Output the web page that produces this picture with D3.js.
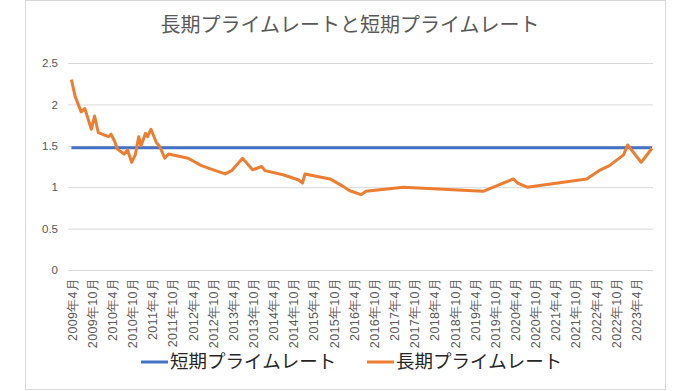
<!DOCTYPE html>
<html>
  <head>
    <meta charset="utf-8">
    <title>長期プライムレートと短期プライムレート</title>
    <script src="https://cdn.jsdelivr.net/npm/d3@7"></script>
    <style>
      body { margin: 0; background: #fff; }
      svg { display: block; font-family: "Liberation Serif", "Noto Sans CJK JP", serif; }
      .grid line { stroke: #d9d9d9; stroke-width: 1; }
      .tick text { fill: #595959; }
    </style>
  </head>
  <body>
    <svg id="chart" width="700" height="391"></svg>

    <script>
      // data
      longDates = ["2009-03-28", "2009-04-30", "2009-06-24", "2009-07-27", "2009-09-25", "2009-10-24",
        "2009-11-26", "2010-02-28", "2010-03-22", "2010-04-25", "2010-05-19", "2010-07-19",
        "2010-08-19", "2010-09-25", "2010-10-28", "2010-11-28", "2010-12-19", "2011-01-28",
        "2011-02-16", "2011-03-19", "2011-05-07", "2011-06-07", "2011-07-22", "2011-08-25",
        "2012-02-19", "2012-06-19", "2012-10-04", "2013-01-19", "2013-03-19", "2013-06-26",
        "2013-09-25", "2013-12-16", "2014-01-16", "2014-06-28", "2014-11-13", "2014-12-22",
        "2015-01-13", "2015-08-28", "2015-12-25", "2016-02-19", "2016-06-04", "2016-07-19",
        "2017-06-22", "2019-06-16", "2020-03-16", "2020-04-25", "2020-07-19", "2022-01-10",
        "2022-05-01", "2022-08-04", "2022-12-10", "2023-01-16", "2023-05-19", "2023-08-25"];
      longRates = [2.30, 2.10, 1.91, 1.95, 1.70, 1.86,
        1.66, 1.61, 1.64, 1.55, 1.46, 1.40,
        1.45, 1.30, 1.39, 1.61, 1.50, 1.65,
        1.61, 1.70, 1.54, 1.49, 1.35, 1.40,
        1.35, 1.26, 1.21, 1.16, 1.20, 1.35,
        1.21, 1.25, 1.20, 1.15, 1.09, 1.05,
        1.16, 1.10, 1.01, 0.96, 0.91, 0.95,
        1.00, 0.95, 1.10, 1.05, 1.00, 1.10,
        1.20, 1.26, 1.39, 1.51, 1.30, 1.47];
      shortDates = ["2009-03-28", "2023-08-25"];
      shortRates = [1.475, 1.475];
      yTicks = [0, 0.5, 1, 1.5, 2, 2.5];
      axisStart = "2009-02-25";
      axisEnd = "2023-09-03";
      firstLabel = "2009-04-01";
      lastLabel = "2023-05-01";
      seriesNames = ["短期プライムレート", "長期プライムレート"];
      seriesColours = ["#4472c4", "#ed7d31"];
      chartTitle = "長期プライムレートと短期プライムレート";

      parse = d3.timeParse("%Y-%m-%d");
      svg = d3.select("#chart");

      // frame
      svg.append("rect")
        .attr("x", 25.5).attr("y", 0.5)
        .attr("width", 640).attr("height", 389)
        .attr("fill", "#fff")
        .attr("stroke", "#d9d9d9");

      x = d3.scaleTime()
        .domain([parse(axisStart), parse(axisEnd)])
        .range([68, 653]);
      y = d3.scaleLinear()
        .domain([0, 2.5])
        .range([270, 63]);

      // gridlines + y labels
      yAxis = svg.append("g")
        .attr("class", "grid")
        .attr("transform", "translate(68,0)")
        .call(d3.axisLeft(y).tickValues(yTicks).tickSize(-585).tickPadding(10).tickFormat(d3.format("")));
      yAxis.select(".domain").remove();
      yAxis.selectAll("text").style("font-size", "11.5px");

      // x labels every six months, April and October
      xTicks = d3.timeMonth.range(parse(firstLabel), parse(lastLabel), 6);
      xAxis = svg.append("g")
        .attr("transform", "translate(0,270)")
        .call(d3.axisBottom(x).tickValues(xTicks).tickSize(0)
          .tickFormat(function(d) { return d.getFullYear() + "年" + (d.getMonth() + 1) + "月"; }));
      xAxis.select(".domain").remove();
      xAxis.selectAll("text")
        .style("font-size", "12.5px")
        .style("letter-spacing", "0.3px")
        .attr("transform", "rotate(-90)")
        .attr("x", -8).attr("y", 0).attr("dy", "0.35em")
        .style("text-anchor", "end");

      line = d3.line()
        .x(function(d) { return x(d.date); })
        .y(function(d) { return y(d.value); });

      shortData = shortDates.map(function(d, i) { return { date: parse(d), value: shortRates[i] }; });
      longData = longDates.map(function(d, i) { return { date: parse(d), value: longRates[i] }; });

      svg.append("path")
        .datum(shortData)
        .attr("d", line)
        .attr("fill", "none")
        .attr("stroke", seriesColours[0])
        .attr("stroke-width", 3);

      svg.append("path")
        .datum(longData)
        .attr("d", line)
        .attr("fill", "none")
        .attr("stroke", seriesColours[1])
        .attr("stroke-width", 3)
        .attr("stroke-linejoin", "round");

      // title
      svg.append("text")
        .attr("x", 350).attr("y", 32)
        .attr("text-anchor", "middle")
        .style("font-size", "20px")
        .style("fill", "#595959")
        .text(chartTitle);

      // legend
      legendX = [141, 367];
      legend = svg.selectAll(".legend")
        .data(seriesNames)
        .enter().append("g")
          .attr("class", "legend")
          .attr("transform", function(d, i) { return "translate(" + legendX[i] + ",362)"; });
      legend.append("line")
        .attr("x1", 0).attr("x2", 27)
        .attr("stroke", function(d, i) { return seriesColours[i]; })
        .attr("stroke-width", 3);
      legend.append("text")
        .attr("x", 29).attr("dy", "0.35em")
        .style("font-size", "18.5px")
        .style("fill", "#262626")
        .text(function(d) { return d; });
    </script>
  </body>
</html>
